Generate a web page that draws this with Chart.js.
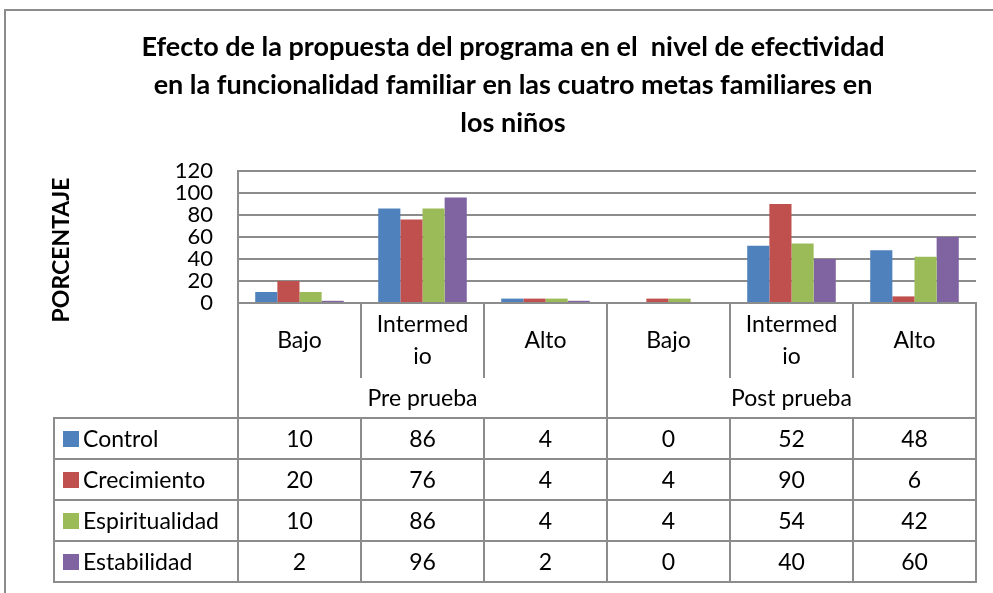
<!DOCTYPE html>
<html>
<head>
<meta charset="utf-8">
<script src="https://cdn.jsdelivr.net/npm/chart.js@4"></script>
<style>
html,body{margin:0;padding:0;background:#fff;}
#wrap{position:relative;width:993px;height:593px;overflow:hidden;font-family:Lato,"Open Sans",sans-serif;}
#frame{position:absolute;left:4px;top:9px;width:1100px;height:700px;border-left:2px solid #8c8c8c;border-top:2px solid #8c8c8c;box-sizing:border-box;}
#chart{position:absolute;left:0;top:0;}
.cell{position:absolute;box-sizing:border-box;display:flex;align-items:center;justify-content:center;text-align:center;font-size:23px;color:#000;line-height:1.15;}
.cell.cat{line-height:1.4;padding-bottom:2px;}
.cell.leg{justify-content:flex-start;padding-left:9px;}
.key{display:inline-block;width:16px;height:16px;margin-right:4px;}
.ln{position:absolute;background:#8c8c8c;}
</style>
</head>
<body>
<div id="wrap">
  <div id="frame"></div>
  <canvas id="chart" width="993" height="593"></canvas>
  <div id="tbl"></div>
</div>
<script>
// data
const titleLines = [
  'Efecto de la propuesta del programa en el  nivel de efectividad',
  'en la funcionalidad familiar en las cuatro metas familiares en',
  'los niños'
];
const groups = ['Pre prueba', 'Post prueba'];
const levels = ['Bajo', ['Intermed', 'io'], 'Alto'];
const seriesNames = ['Control', 'Crecimiento', 'Espiritualidad', 'Estabilidad'];
const seriesColors = ['#4F81BD', '#C0504D', '#9BBB59', '#8064A2'];
const control = [10, 86, 4, 0, 52, 48];
const crecimiento = [20, 76, 4, 4, 90, 6];
const espiritualidad = [10, 86, 4, 4, 54, 42];
const estabilidad = [2, 96, 2, 0, 40, 60];
const yTicks = [0, 20, 40, 60, 80, 100, 120];

const seriesValues = [control, crecimiento, espiritualidad, estabilidad];
const labels = groups.flatMap(g => levels.map(l => (Array.isArray(l) ? l.join('') : l) + ' ' + g));

const GRID = '#8c8c8c';

// shift the rotated y title a bit below the plot centre, as in the original
const yTitleShift = {
  id: 'yTitleShift',
  afterDraw(c) {
    const s = c.scales.y, ctx = c.ctx;
    ctx.save();
    ctx.translate(62, (s.top + s.bottom) / 2 + 13);
    ctx.rotate(-Math.PI / 2);
    ctx.font = 'bold 23px Lato';
    ctx.fillStyle = '#000';
    ctx.textAlign = 'center';
    ctx.textBaseline = 'middle';
    ctx.fillText('PORCENTAJE', 0, 0);
    ctx.restore();
  }
};

const chart = new Chart(document.getElementById('chart'), {
  type: 'bar',
  data: {
    labels,
    datasets: seriesNames.map((n, i) => ({
      label: n,
      data: seriesValues[i],
      backgroundColor: seriesColors[i],
      categoryPercentage: 0.72,
      barPercentage: 1
    }))
  },
  options: {
    responsive: false,
    animation: false,
    layout: { padding: { left: 50, right: 17, top: 0, bottom: 290 } },
    plugins: {
      legend: { display: false },
      tooltip: { enabled: false },
      title: {
        display: true,
        text: titleLines,
        color: '#000',
        font: { family: 'Lato', size: 27, weight: 'bold', lineHeight: 38 / 27 },
        padding: { top: 28, bottom: 29 }
      }
    },
    scales: {
      x: {
        grid: { display: false, drawTicks: false },
        ticks: { display: false },
        border: { display: true, color: GRID, width: 2 }
      },
      y: {
        min: 0, max: 120,
        afterBuildTicks: s => { s.ticks = yTicks.map(v => ({ value: v })); },
        ticks: { color: '#000', font: { family: 'Lato', size: 22 }, padding: 25, autoSkip: false },
        grid: { color: GRID, lineWidth: 2, drawTicks: false },
        border: { display: true, color: GRID, width: 2 },
        title: { display: false, text: 'PORCENTAJE' },
        afterFit: s => { s.width = 188; }
      }
    }
  },
  plugins: [yTitleShift]
});

// data table under the plot, aligned to the x scale
const tbl = document.getElementById('tbl');
const xs = chart.scales.x;
const n = labels.length;
const colW = (xs.right - xs.left) / n;
const colX = i => xs.getPixelForValue(i) - colW / 2;
const axisY = chart.chartArea.bottom;
const catBottom = 377, grpBottom = 418, rowH = 41, legLeft = 54;
const tableBottom = grpBottom + rowH * seriesNames.length;

function cell(x, y, w, h, html, cls) {
  const d = document.createElement('div');
  d.className = 'cell' + (cls ? ' ' + cls : '');
  Object.assign(d.style, { left: x + 'px', top: y + 'px', width: w + 'px', height: h + 'px' });
  d.innerHTML = html;
  tbl.appendChild(d);
}
function line(x, y, w, h) {
  const d = document.createElement('div');
  d.className = 'ln';
  Object.assign(d.style, { left: (x - 1) + 'px', top: (y - 1) + 'px', width: (w + 2) + 'px', height: (h + 2) + 'px' });
  tbl.appendChild(d);
}

// category labels + group labels
groups.forEach((g, gi) => {
  levels.forEach((l, li) => {
    const i = gi * levels.length + li;
    cell(colX(i), axisY, colW, catBottom - axisY, Array.isArray(l) ? l.join('<br>') : l, 'cat');
  });
  cell(colX(gi * levels.length), catBottom, colW * levels.length, grpBottom - catBottom, g);
});

// series rows
seriesNames.forEach((s, si) => {
  const y = grpBottom + si * rowH;
  cell(legLeft, y, colX(0) - legLeft, rowH,
    `<span class="key" style="background:${seriesColors[si]}"></span>${s}`, 'leg');
  seriesValues[si].forEach((v, i) => cell(colX(i), y, colW, rowH, String(v)));
});

// grid lines of the table
for (let i = 0; i <= n; i++) {
  const x = i === n ? xs.right : colX(i);
  if (i % levels.length === 0) line(x, axisY, 0, tableBottom - axisY);
  else { line(x, axisY, 0, catBottom - axisY); line(x, grpBottom, 0, tableBottom - grpBottom); }
}
line(legLeft, grpBottom, 0, tableBottom - grpBottom);
for (let r = 0; r <= seriesNames.length; r++) line(legLeft, grpBottom + r * rowH, xs.right - legLeft, 0);
</script>
</body>
</html>
